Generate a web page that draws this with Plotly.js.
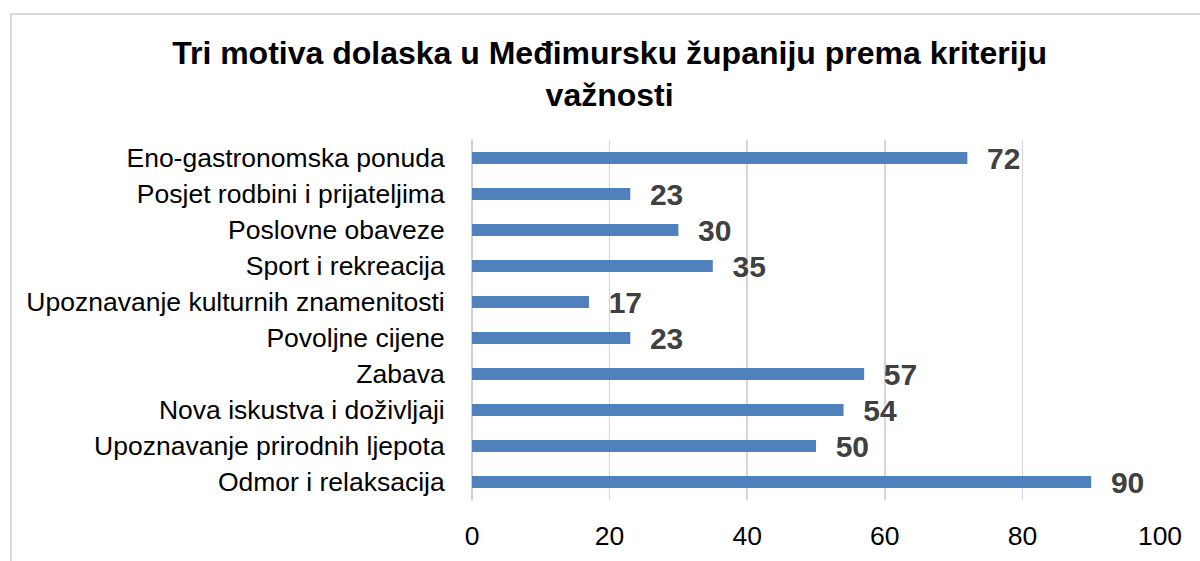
<!DOCTYPE html>
<html>
<head>
<meta charset="utf-8">
<script src="https://cdn.plot.ly/plotly-3.0.1.min.js"></script>
<style>
html,body{margin:0;padding:0;background:#fff;overflow:hidden;}
#frame{position:absolute;left:10px;top:13px;width:1200px;height:600px;border:2px solid #d9d9d9;box-sizing:border-box;}
#chart{position:absolute;left:0;top:0;width:1200px;height:561px;}
</style>
</head>
<body>
<div id="frame"></div>
<div id="chart"></div>
<script>
const categories = [
  "Odmor i relaksacija",
  "Upoznavanje prirodnih ljepota",
  "Nova iskustva i doživljaji",
  "Zabava",
  "Povoljne cijene",
  "Upoznavanje kulturnih znamenitosti",
  "Sport i rekreacija",
  "Poslovne obaveze",
  "Posjet rodbini i prijateljima",
  "Eno-gastronomska ponuda"
];
const values = [90, 50, 54, 57, 23, 17, 35, 30, 23, 72];
const xTicks = [0, 20, 40, 60, 80, 100];

const FONT = 'Liberation Sans, Arial, sans-serif';

const trace = {
  type: 'bar',
  orientation: 'h',
  y: categories,
  x: values,
  marker: {color: '#4f81bd', line: {width: 0}},
  width: 0.34,
  text: values.map(String),
  texttemplate: '  %{text}',
  textposition: 'outside',
  constraintext: 'none',
  cliponaxis: false,
  textfont: {family: FONT, size: 30, color: '#404040', weight: 'bold'},
  hoverinfo: 'none'
};

const layout = {
  width: 1200, height: 561,
  paper_bgcolor: 'rgba(0,0,0,0)',
  plot_bgcolor: 'rgba(0,0,0,0)',
  margin: {l: 472, r: 40, t: 140, b: 61},
  title: {
    text: '<b>Tri motiva dolaska u Međimursku županiju prema kriteriju<br>važnosti</b>',
    font: {family: FONT, size: 32, color: '#000'},
    xref: 'container', x: 0.508, xanchor: 'center',
    yref: 'container', y: 1 - 64/561, yanchor: 'middle'
  },
  xaxis: {
    range: [0, 100],
    tickvals: xTicks,
    ticktext: xTicks.map(String),
    showgrid: true,
    gridcolor: '#d9d2e6',
    gridwidth: 1.5,
    zeroline: true,
    zerolinecolor: '#d0d0d0',
    zerolinewidth: 1.5,
    showline: false,
    ticks: 'outside', ticklen: 12, tickcolor: 'rgba(0,0,0,0)',
    tickfont: {family: FONT, size: 26.5, color: '#000'},
    fixedrange: true
  },
  yaxis: {
    type: 'category',
    categoryorder: 'array',
    categoryarray: categories,
    range: [-0.5, 9.5],
    showgrid: false,
    showline: false,
    ticks: 'outside', ticklen: 21, tickcolor: 'rgba(0,0,0,0)',
    tickfont: {family: FONT, size: 26.5, color: '#000'},
    fixedrange: true
  },
  showlegend: false
};

Plotly.newPlot('chart', [trace], layout, {displayModeBar: false, staticPlot: true});
</script>
</body>
</html>
